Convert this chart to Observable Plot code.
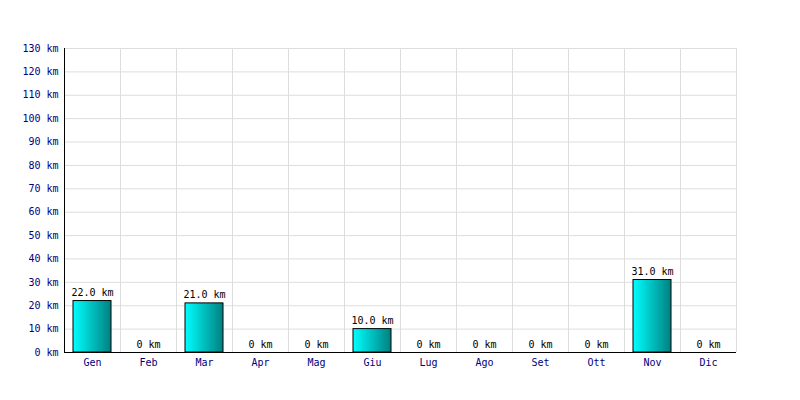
<!DOCTYPE html>
<html>
<head>
<meta charset="utf-8">
<script src="https://cdn.jsdelivr.net/npm/d3@7"></script>
<script src="https://cdn.jsdelivr.net/npm/@observablehq/plot@0.6"></script>
<style>
  html, body { margin: 0; padding: 0; background: #fff; }
</style>
</head>
<body>
<div id="chart"></div>
<script>
const months = ["Gen","Feb","Mar","Apr","Mag","Giu","Lug","Ago","Set","Ott","Nov","Dic"];
const kmValues = [22, 0, 21, 0, 0, 10, 0, 0, 0, 0, 31, 0];
const yTicks = [0,10,20,30,40,50,60,70,80,90,100,110,120,130];

const data = months.map((m, i) => ({i, month: m, km: kmValues[i]}));
const fmt = v => v === 0 ? "0 km" : v.toFixed(1) + " km";

const plot = Plot.plot({
  width: 800,
  height: 400,
  marginLeft: 64,
  marginRight: 64,
  marginTop: 48,
  marginBottom: 48,
  style: {fontFamily: "'DejaVu Sans Mono', monospace", fontSize: "10px", background: "#fff"},
  x: {domain: [0, months.length], axis: null, label: null},
  y: {domain: [0, 130], axis: null, label: null},
  marks: [
    Plot.gridY(yTicks, {stroke: "#dddddd", strokeOpacity: 1}),
    Plot.gridX(d3.range(months.length + 1), {stroke: "#dddddd", strokeOpacity: 1}),
    Plot.rectY(data.filter(d => d.km > 0), {
      x1: "i", x2: d => d.i + 1, y1: 0, y2: "km",
      insetLeft: 9, insetRight: 9,
      fill: "url(#barGrad)", stroke: "#000", strokeWidth: 1
    }),
    Plot.text(data, {
      x: d => d.i + 0.5, y: "km", text: d => fmt(d.km),
      lineAnchor: "bottom", dy: -5, fill: "#000"
    }),
    Plot.axisY(yTicks, {tickSize: 0, tickPadding: 6, tickFormat: d => d + " km", fill: "#000080", label: null}),
    Plot.axisX(months.map((m, i) => i + 0.5), {tickSize: 0, tickPadding: 6, tickFormat: d => months[Math.floor(d)], fill: "#000080", label: null}),
    Plot.ruleY([0], {stroke: "#000"}),
    Plot.ruleX([0], {stroke: "#000"})
  ]
});

const svg = d3.select(plot);
const grad = svg.insert("defs", ":first-child")
  .append("linearGradient")
  .attr("id", "barGrad")
  .attr("x1", "0%").attr("x2", "100%").attr("y1", "0%").attr("y2", "0%");
grad.append("stop").attr("offset", "0%").attr("stop-color", "#00ffff");
grad.append("stop").attr("offset", "100%").attr("stop-color", "#008080");

document.getElementById("chart").appendChild(plot);
</script>
</body>
</html>
